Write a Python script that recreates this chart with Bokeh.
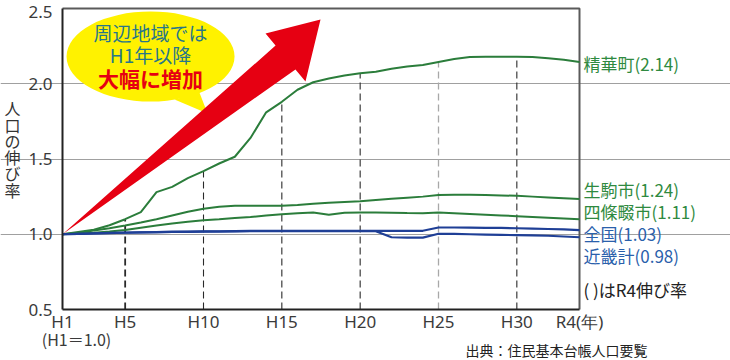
from bokeh.plotting import figure
from bokeh.models import Range1d, FixedTicker, Label
from bokeh.embed import file_html
from bokeh.resources import INLINE

# ---------------- data ----------------
year_labels = ["H1", "H2", "H3", "H4", "H5", "H6", "H7", "H8", "H9", "H10",
               "H11", "H12", "H13", "H14", "H15", "H16", "H17", "H18", "H19", "H20",
               "H21", "H22", "H23", "H24", "H25", "H26", "H27", "H28", "H29", "H30",
               "H31", "R2", "R3", "R4"]
year_index = [1, 2, 3, 4, 5, 6, 7, 8, 9, 10, 11, 12, 13, 14, 15, 16, 17,
              18, 19, 20, 21, 22, 23, 24, 25, 26, 27, 28, 29, 30, 31, 32, 33, 34]

seika = [1.00, 1.015, 1.03, 1.06, 1.10, 1.147, 1.28, 1.315, 1.373, 1.42,
         1.47, 1.515, 1.64, 1.81, 1.88, 1.96, 2.01, 2.035, 2.055, 2.07,
         2.08, 2.10, 2.115, 2.125, 2.145, 2.165, 2.178, 2.18, 2.18, 2.18,
         2.178, 2.17, 2.16, 2.145]
ikoma = [1.00, 1.01, 1.025, 1.04, 1.058, 1.078, 1.10, 1.125, 1.15, 1.17,
         1.183, 1.19, 1.19, 1.19, 1.19, 1.195, 1.203, 1.21, 1.215, 1.22,
         1.228, 1.236, 1.243, 1.25, 1.26, 1.262, 1.262, 1.26, 1.258, 1.255,
         1.25, 1.245, 1.24, 1.235]
shijonawate = [1.00, 1.005, 1.01, 1.018, 1.028, 1.043, 1.058, 1.072, 1.083, 1.093,
               1.10, 1.108, 1.115, 1.124, 1.133, 1.14, 1.145, 1.13, 1.143, 1.145,
               1.145, 1.143, 1.141, 1.14, 1.145, 1.14, 1.135, 1.13, 1.125, 1.12,
               1.115, 1.11, 1.105, 1.10]
zenkoku = [1.00, 1.003, 1.006, 1.009, 1.011, 1.013, 1.015, 1.017, 1.018, 1.019,
           1.02, 1.021, 1.022, 1.022, 1.022, 1.022, 1.022, 1.022, 1.022, 1.022,
           1.022, 1.023, 1.023, 1.023, 1.045, 1.045, 1.044, 1.043, 1.042, 1.04,
           1.038, 1.035, 1.032, 1.028]
kinki = [1.00, 1.003, 1.005, 1.008, 1.01, 1.012, 1.013, 1.015, 1.016, 1.017,
         1.018, 1.019, 1.02, 1.02, 1.02, 1.02, 1.02, 1.02, 1.02, 1.02,
         1.02, 0.98, 0.978, 0.978, 1.003, 1.002, 1.0, 0.998, 0.996, 0.994,
         0.992, 0.99, 0.985, 0.98]

tick_years = [1, 5, 10, 15, 20, 25, 30, 34]
tick_text = ["H1", "H5", "H10", "H15", "H20", "H25", "H30", "R4(年)"]
y_ticks = [0.5, 1.0, 1.5, 2.0, 2.5]
y_tick_text = ["0.5", "1.0", "1.5", "2.0", ""]   # top label drawn separately below
top_tick_text = "2.5"
grid_values = [1.0, 1.5, 2.0]
guide_years = [5, 10, 15, 20, 25, 30]
guide_colors = ["#2a2a2a", "#2a2a2a", "#2a2a2a", "#2a2a2a", "#a8a8a8", "#2a2a2a"]
guide_widths = [1.8, 1.1, 1.1, 1.1, 1.3, 1.1]

series_names = ["精華町", "生駒市", "四條畷市", "全国", "近畿計"]
r4_rates = ["2.14", "1.24", "1.11", "1.03", "0.98"]

# plot area in data units
X0, X1 = 1, 34
Y0, Y1 = 0.5, 2.5

# annotation shapes (data units)
arrow_x = [1.0, 14.6, 13.96, 17.47, 16.51, 15.87]
arrow_y = [1.0, 2.254, 2.334, 2.427, 2.015, 2.095]
bubble_x, bubble_y = 6.62, 2.181
tail_x = [8.15, 9.74, 10.26]
tail_y = [1.895, 1.942, 1.802]

GREEN = "#2b7d3b"
GREEN_TXT = "#2f8a40"
BLUE = "#1f3f96"
BLUE_TXT = "#2a60ab"
JP = "Noto Sans CJK JP"

# picture geometry of the plot area (pixels)
PX_L, PX_R, PX_T, PX_B = 62, 579, 8, 309
W, H = 730, 360
sx = (X1 - X0) / (PX_R - PX_L)
sy = (Y1 - Y0) / (PX_B - PX_T)

# ---------------- figure ----------------
# the frame spans the whole canvas so that margin texts are not clipped;
# axes are pinned to the plot area with fixed_location and bounds
p = figure(width=W, height=H,
           x_range=Range1d(X0 - PX_L * sx, X1 + (W - PX_R) * sx),
           y_range=Range1d(Y0 - (H - PX_B) * sy, Y1 + PX_T * sy),
           output_backend="svg", toolbar_location=None,
           min_border_left=0, min_border_right=0, min_border_top=0, min_border_bottom=0)
p.background_fill_color = "white"
p.border_fill_color = "white"
p.outline_line_color = None

p.xgrid.visible = False
p.ygrid.ticker = FixedTicker(ticks=grid_values)
p.ygrid.bounds = (X0, X1)
p.ygrid.grid_line_color = "#a0a0a0"
p.ygrid.grid_line_width = 1

# top and right border of the plot area
p.line([X0, X1, X1], [Y1, Y1, Y0], line_color="#5a5a5a", line_width=2)

for ax in (p.xaxis[0], p.yaxis[0]):
    ax.axis_line_color = "#222222"
    ax.axis_line_width = 2
    ax.major_tick_line_color = None
    ax.minor_tick_line_color = None
    ax.major_tick_out = 0
    ax.major_tick_in = 0
    ax.major_label_text_font = "Noto Sans"
    ax.major_label_text_font_size = "17px"
    ax.major_label_text_color = "#3a3a3a"

p.xaxis.fixed_location = Y0
p.xaxis.bounds = (X0, X1)
p.xaxis.ticker = FixedTicker(ticks=tick_years)
p.xaxis.major_label_overrides = {t: s for t, s in zip(tick_years, tick_text)}
p.xaxis.major_label_standoff = 0
p.yaxis.fixed_location = X0
p.yaxis.bounds = (Y0, Y1)
p.yaxis.ticker = FixedTicker(ticks=y_ticks)
p.yaxis.major_label_overrides = {t: s for t, s in zip(y_ticks, y_tick_text)}
p.yaxis.major_label_standoff = 10

# speech bubble
p.ellipse(x=[bubble_x], y=[bubble_y], width=168, height=90,
          width_units="screen", height_units="screen",
          fill_color="#fff200", line_color=None)
p.patch(tail_x, tail_y, fill_color="#fff200", line_color=None)

# red arrow
p.patch(arrow_x, arrow_y, fill_color="#e60012", line_color=None)

# dashed guides from the 精華町 line down to the axis
p.segment(x0=guide_years, y0=[Y0] * len(guide_years), x1=guide_years,
          y1=[seika[year_index.index(g)] for g in guide_years],
          line_color=guide_colors, line_width=guide_widths, line_dash="7 4")

# series lines
p.line(year_index, shijonawate, line_color=GREEN, line_width=2)
p.line(year_index, ikoma, line_color=GREEN, line_width=2)
p.line(year_index, seika, line_color=GREEN, line_width=2)
p.line(year_index, kinki, line_color=BLUE, line_width=2.2)
p.line(year_index, zenkoku, line_color=BLUE, line_width=2.2)

# bubble texts
p.add_layout(Label(x=bubble_x, y=2.34, text="周辺地域では", text_align="center",
                   text_baseline="middle", text_font=JP, text_font_size="19px",
                   text_color="#27768a"))
p.add_layout(Label(x=bubble_x, y=2.194, text="H1年以降", text_align="center",
                   text_baseline="middle", text_font=JP, text_font_size="19px",
                   text_color="#27768a"))
p.add_layout(Label(x=bubble_x, y=2.035, text="大幅に増加", text_align="center",
                   text_baseline="middle", text_font=JP, text_font_size="21px",
                   text_font_style="bold", text_color="#e60012"))


def px_label(px, py, text, color, size="17px", align="left", font=JP):
    # place a text annotation at a picture position, converted to data units
    p.add_layout(Label(x=X0 + (px - PX_L) * sx, y=Y0 + (PX_B - py) * sy, text=text,
                       text_align=align, text_baseline="middle", text_font=font,
                       text_font_size=size, text_color=color))


# top y tick label, nudged down so it stays inside the page
px_label(52, 11, top_tick_text, "#3a3a3a", align="right", font="Noto Sans")

# vertical y-axis title
ylab_chars = ["人", "口", "の", "伸", "び", "率"]
ylab_y = [107, 124, 140, 156, 172, 189]
for ch, yy in zip(ylab_chars, ylab_y):
    px_label(12, yy, ch, "#333333", size="16px", align="center")

# right-side series labels
label_y = [62.5, 189, 211, 233, 255]
label_colors = [GREEN_TXT, GREEN_TXT, GREEN_TXT, BLUE_TXT, BLUE_TXT]
for name, rate, yy, col in zip(series_names, r4_rates, label_y, label_colors):
    px_label(583, yy, f"{name}({rate})", col)
px_label(583, 289, "( )はR4伸び率", "#222222")

# base note and source
px_label(76, 338, "(H1＝1.0)", "#3a3a3a", size="16px", align="center")
px_label(556, 349, "出典：住民基本台帳人口要覧", "#222222", size="14px", align="center")

open("out.html", "w").write(file_html(p, INLINE))
